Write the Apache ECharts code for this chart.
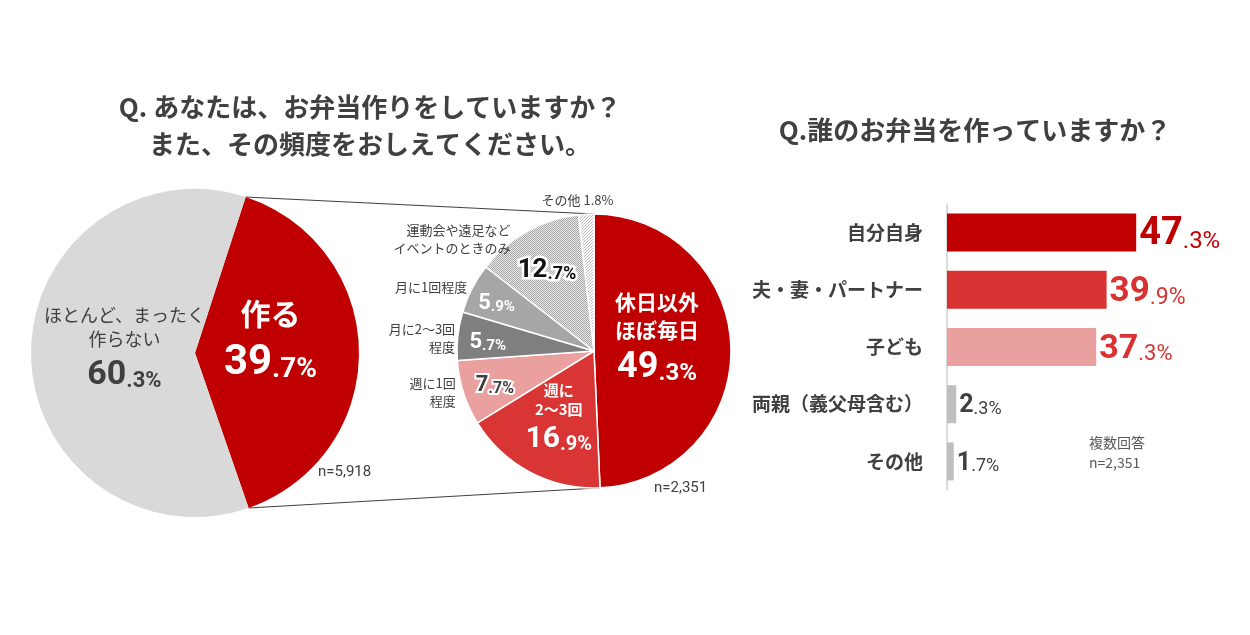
<!DOCTYPE html>
<html><head><meta charset="utf-8">
<script src="https://cdn.jsdelivr.net/npm/echarts@6/dist/echarts.min.js"></script>
<style>html,body{margin:0;padding:0;background:#fff}#c{width:1250px;height:635px}</style>
</head><body><div id="c"></div>
<script>
// ---------- data ----------
const overviewNames = ['作る', 'ほとんど、まったく作らない'];
const overviewValues = [39.7, 60.3];
const freqNames = ['休日以外ほぼ毎日', '週に2〜3回', '週に1回程度', '月に2〜3回程度', '月に1回程度', '運動会や遠足などイベントのときのみ', 'その他'];
const freqValues = [49.3, 16.9, 7.7, 5.7, 5.9, 12.7, 1.8];
const whoCategories = ['自分自身', '夫・妻・パートナー', '子ども', '両親（義父母含む）', 'その他'];
const whoValues = [47.3, 39.9, 37.3, 2.3, 1.7];
const sampleLeft = 'n=5,918';
const sampleRight = 'n=2,351';

// ---------- display text ----------
const overviewInsideText = ['{w|作る}', '{a|ほとんど、まったく}\n{a|作らない}'];
const freqInsideText = ['{h|休日以外}\n{h|ほぼ毎日}', '{s|週に}\n{s|2〜3回}', '', '', '', '', ''];
const freqOutsideText = ['', '', '週に1回\n程度', '月に2〜3回\n程度', '月に1回程度', '運動会や遠足など\nイベントのときのみ', 'その他 1.8%'];

// ---------- styles / layout ----------
const JP = '"Noto Sans CJK JP", sans-serif';
const NUM = 'Roboto, "Noto Sans CJK JP", sans-serif';
const L = {cx: 195, cy: 353, r: 164, start: 72};
const R = {cx: 594, cy: 351, r: 137, start: 90};
const overviewColors = ['#c00000', '#d9d9d9'];
const overviewRf = [0.46, 0.43], overviewDy = [-15, -6];
const freqInRf = [0.46, 0.55, 0.76, 0.78, 0.80, 0.70, 0], freqInDy = [-13, 0, 0, 0, 0, 0, 0];
const freqOutRf = [1, 1, 1.06, 1.02, 1.04, 1.02, 1.1];
const freqOutDx = [0, 0, 0, 0, 0, -15, -8], freqOutDy = [0, 0, -3, 2, 1, 10, 0];
const freqOutAlign = ['right', 'right', 'right', 'right', 'right', 'right', 'center'];
const freqNumStyle = [
  {big: 36, small: 24, color: '#fff', border: 0},
  {big: 30, small: 20, color: '#fff', border: 0},
  {big: 22, small: 16, color: '#404040', border: 4},
  {big: 22, small: 15, color: '#fff', border: 0},
  {big: 22, small: 15, color: '#fff', border: 0},
  {big: 26, small: 18, color: '#111', border: 5},
  null
];
const whoColors = ['#c00000', '#d83232', '#eba0a0', '#bfbfbf', '#bfbfbf'];
const whoLabelColors = ['#c00000', '#d83232', '#d83232', '#404040', '#404040'];
const whoBig = [38, 35, 34, 25, 25], whoSmall = [24, 23, 22, 18, 18];

function pattern(bg, fg, size, pts) {
  const c = document.createElement('canvas'); c.width = size; c.height = size;
  const g = c.getContext('2d'); g.fillStyle = bg; g.fillRect(0, 0, size, size);
  g.fillStyle = fg; pts.forEach(p => g.fillRect(p[0], p[1], 1, 1));
  return {image: c, repeat: 'repeat'};
}
const freqColors = ['#c00000', '#d93535', '#eba0a0', '#7f7f7f', '#a6a6a6',
  pattern('#e8e8e8', '#a8a8a8', 2, [[0,0],[1,1]]),
  pattern('#fafafa', '#bdbdbd', 3, [[0,0],[2,1],[1,2]])];

function split(v) { const s = v.toFixed(1); const k = s.indexOf('.'); return [s.slice(0, k), s.slice(k) + '%']; }
function midAngle(values, i, start) {
  const total = values.reduce((a, b) => a + b, 0);
  let before = 0; for (let k = 0; k < i; k++) before += values[k];
  return (90 - start) + (before + values[i] / 2) / total * 360;
}
function polar(c, ang, rad) { const a = ang * Math.PI / 180; return [c.cx + rad * Math.sin(a), c.cy - rad * Math.cos(a)]; }
function edge(values, upto, c) {
  const total = values.reduce((a, b) => a + b, 0);
  let s = 0; for (let k = 0; k < upto; k++) s += values[k];
  return polar(c, (90 - c.start) + s / total * 360, c.r);
}

const chart = echarts.init(document.getElementById('c'));

// connector lines derived from slice geometry
const lTop = edge(overviewValues, 0, L), lBot = edge(overviewValues, 1, L);
const rTop = edge(freqValues, 0, R), rBot = edge(freqValues, 1, R);

const option = {
  animation: false,
  backgroundColor: '#fff',
  graphic: [
    {type: 'line', z: 0, shape: {x1: lTop[0], y1: lTop[1], x2: rTop[0], y2: rTop[1]}, style: {stroke: '#404040', lineWidth: 1}},
    {type: 'line', z: 0, shape: {x1: lBot[0], y1: lBot[1], x2: rBot[0], y2: rBot[1]}, style: {stroke: '#404040', lineWidth: 1}},
    {type: 'text', z: 100, x: 370, y: 126, style: {text: 'Q. あなたは、お弁当作りをしていますか？\nまた、その頻度をおしえてください。', align: 'center', verticalAlign: 'middle', fill: '#404040', font: 'bold 26px ' + JP, lineHeight: 37}},
    {type: 'text', z: 100, x: 975, y: 130, style: {text: 'Q.誰のお弁当を作っていますか？', align: 'center', verticalAlign: 'middle', fill: '#404040', font: 'bold 26px ' + JP}},
    {type: 'text', z: 100, x: 318, y: 472, style: {text: sampleLeft, align: 'left', verticalAlign: 'middle', fill: '#404040', font: '15px ' + NUM}},
    {type: 'text', z: 100, x: 654, y: 488, style: {text: sampleRight, align: 'left', verticalAlign: 'middle', fill: '#404040', font: '15px ' + NUM}},
    {type: 'text', z: 100, x: 1089, y: 453, style: {text: '複数回答\n' + sampleRight, align: 'left', verticalAlign: 'middle', fill: '#595959', font: '14px ' + JP, lineHeight: 20}}
  ],
  grid: {left: 947, top: 204, height: 286, width: 240},
  xAxis: {type: 'value', min: 0, max: 60, show: false},
  yAxis: {
    type: 'category', inverse: true, data: whoCategories,
    axisLine: {show: true, lineStyle: {color: '#d0d0d0', width: 1.5}},
    axisTick: {show: false},
    axisLabel: {margin: 24, color: '#404040', fontSize: 19, fontWeight: 'bold', fontFamily: JP}
  },
  series: [
    {
      type: 'pie', center: [L.cx, L.cy], radius: L.r, startAngle: L.start, clockwise: true,
      silent: true, emphasis: {disabled: true},
      itemStyle: {borderColor: '#fff', borderWidth: 0},
      labelLine: {show: false},
      data: overviewValues.map((v, i) => ({name: overviewNames[i], value: v, itemStyle: {color: overviewColors[i]}})),
      label: {
        show: true, position: 'inside', align: 'center',
        formatter: p => { const s = split(p.value); const n = p.dataIndex === 0 ? 'W' : 'n'; const d = p.dataIndex === 0 ? 'D' : 'd';
          return overviewInsideText[p.dataIndex] + '\n{' + n + '|' + s[0] + '}{' + d + '|' + s[1] + '}'; },
        rich: {
          a: {fontFamily: JP, fontSize: 18, color: '#404040', lineHeight: 24},
          n: {fontFamily: NUM, fontSize: 34, fontWeight: 'bold', color: '#404040', lineHeight: 42, verticalAlign: 'bottom'},
          d: {fontFamily: NUM, fontSize: 22, fontWeight: 'bold', color: '#404040', lineHeight: 42, verticalAlign: 'bottom'},
          w: {fontFamily: JP, fontSize: 30, fontWeight: 'bold', color: '#fff', lineHeight: 46},
          W: {fontFamily: NUM, fontSize: 42, fontWeight: 'bold', color: '#fff', lineHeight: 48, verticalAlign: 'bottom'},
          D: {fontFamily: NUM, fontSize: 28, fontWeight: 'bold', color: '#fff', lineHeight: 48, verticalAlign: 'bottom'}
        }
      },
      labelLayout: p => { const i = p.dataIndex; const pt = polar(L, midAngle(overviewValues, i, L.start), L.r * overviewRf[i]);
        return {x: pt[0], y: pt[1] + overviewDy[i], align: 'center', verticalAlign: 'middle'}; }
    },
    {
      type: 'pie', center: [R.cx, R.cy], radius: R.r, startAngle: R.start, clockwise: true,
      silent: true, emphasis: {disabled: true},
      itemStyle: {borderColor: '#fff', borderWidth: 1.5},
      labelLine: {show: false},
      data: freqValues.map((v, i) => {
        const st = freqNumStyle[i];
        const item = {name: freqNames[i], value: v, itemStyle: {color: freqColors[i]}};
        if (st) item.label = {rich: {
          b: {fontFamily: NUM, fontSize: st.big, fontWeight: 'bold', color: st.color, textBorderColor: '#fff', textBorderWidth: st.border, lineHeight: st.big + 6, verticalAlign: 'bottom'},
          c: {fontFamily: NUM, fontSize: st.small, fontWeight: 'bold', color: st.color, textBorderColor: '#fff', textBorderWidth: st.border, lineHeight: st.big + 6, verticalAlign: 'bottom'},
          h: {fontFamily: JP, fontSize: 21, fontWeight: 'bold', color: '#fff', lineHeight: 28},
          s: {fontFamily: JP, fontSize: 15, fontWeight: 'bold', color: '#fff', lineHeight: 19}
        }};
        return item;
      }),
      label: {
        show: true, position: 'inside', align: 'center',
        formatter: p => { if (!freqNumStyle[p.dataIndex]) return ''; const s = split(p.value); const t = freqInsideText[p.dataIndex];
          return (t ? t + '\n' : '') + '{b|' + s[0] + '}{c|' + s[1] + '}'; }
      },
      labelLayout: p => { const i = p.dataIndex; const pt = polar(R, midAngle(freqValues, i, R.start), R.r * freqInRf[i]);
        return {x: pt[0], y: pt[1] + freqInDy[i], align: 'center', verticalAlign: 'middle'}; }
    },
    {
      type: 'pie', center: [R.cx, R.cy], radius: R.r, startAngle: R.start, clockwise: true,
      silent: true, emphasis: {disabled: true}, z: 3,
      itemStyle: {color: 'rgba(0,0,0,0)', borderWidth: 0},
      labelLine: {show: false},
      data: freqValues.map((v, i) => ({name: freqNames[i], value: v})),
      label: {
        show: true, position: 'inside',
        formatter: p => freqOutsideText[p.dataIndex],
        fontFamily: JP, fontSize: 13, color: '#404040', lineHeight: 18
      },
      labelLayout: p => { const i = p.dataIndex; const pt = polar(R, midAngle(freqValues, i, R.start), R.r * freqOutRf[i]);
        return {x: pt[0] + freqOutDx[i], y: pt[1] + freqOutDy[i], align: freqOutAlign[i], verticalAlign: 'middle'}; }
    },
    {
      type: 'bar', barWidth: 38, silent: true,
      data: whoValues.map((v, i) => ({value: v, itemStyle: {color: whoColors[i]},
        label: {rich: {
          b: {fontFamily: NUM, fontSize: whoBig[i], fontWeight: 'bold', color: whoLabelColors[i], verticalAlign: 'bottom', lineHeight: whoBig[i] + 4},
          c: {fontFamily: NUM, fontSize: whoSmall[i], color: whoLabelColors[i], verticalAlign: 'bottom', lineHeight: whoBig[i] + 4}
        }}})),
      label: {show: true, position: 'right', distance: 3,
        formatter: p => { const s = split(p.value); return '{b|' + s[0] + '}{c|' + s[1] + '}'; }}
    }
  ]
};
chart.setOption(option);
</script>
</body></html>
